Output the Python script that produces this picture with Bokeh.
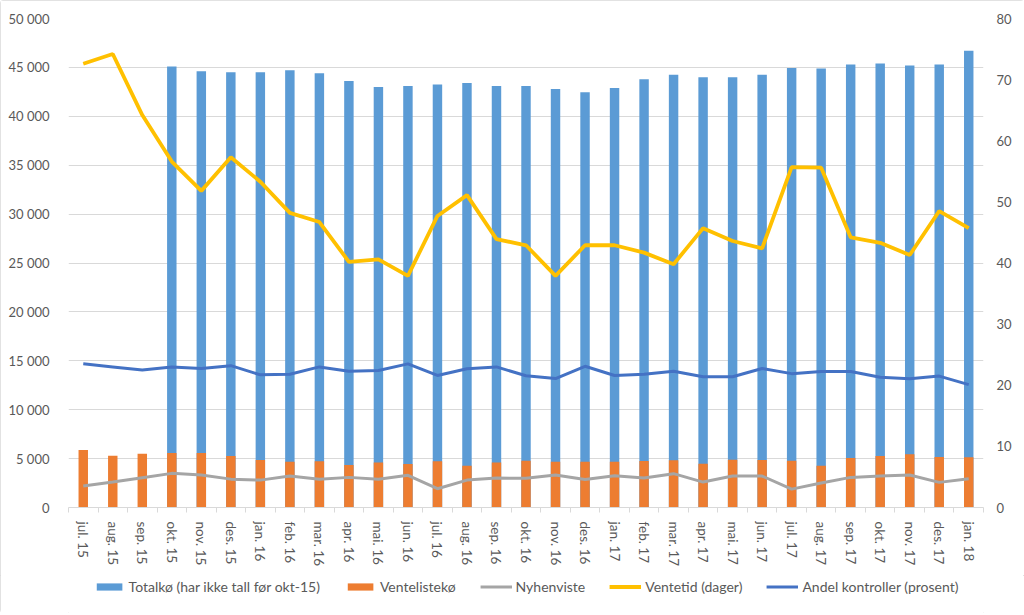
import math
from bokeh.plotting import figure
from bokeh.layouts import column
from bokeh.models import LinearAxis, Range1d, FixedTicker, Legend, LegendItem
from bokeh.embed import file_html
from bokeh.resources import INLINE

nan = float("nan")

months = ["jul. 15", "aug. 15", "sep. 15", "okt. 15", "nov. 15", "des. 15",
          "jan. 16", "feb. 16", "mar. 16", "apr. 16", "mai. 16", "jun. 16",
          "jul. 16", "aug. 16", "sep. 16", "okt. 16", "nov. 16", "des. 16",
          "jan. 17", "feb. 17", "mar. 17", "apr. 17", "mai. 17", "jun. 17",
          "jul. 17", "aug. 17", "sep. 17", "okt. 17", "nov. 17", "des. 17",
          "jan. 18"]

totalko = [nan, nan, nan, 45100, 44600, 44500,
           44500, 44700, 44400, 43600, 43000, 43100,
           43250, 43400, 43100, 43100, 42800, 42450,
           42900, 43800, 44250, 44000, 44000, 44250,
           44950, 44900, 45300, 45400, 45200, 45300,
           46700]

ventelisteko = [5880, 5300, 5500, 5580, 5580, 5270,
                4860, 4690, 4720, 4350, 4590, 4450,
                4720, 4280, 4590, 4790, 4690, 4690,
                4690, 4760, 4830, 4480, 4890, 4860,
                4790, 4280, 5070, 5270, 5440, 5170,
                5130]

nyhenviste = [2190, 2600, 3050, 3490, 3320, 2900,
              2800, 3220, 2900, 3080, 2900, 3290,
              1920, 2800, 3010, 2980, 3320, 2870,
              3250, 3010, 3460, 2600, 3220, 3220,
              1880, 2500, 3080, 3220, 3320, 2570,
              2940]

ventetid = [72.6, 74.2, 64.2, 56.6, 51.8, 57.3,
            53.3, 48.2, 46.7, 40.2, 40.6, 37.9,
            47.7, 51.1, 43.9, 42.9, 37.9, 42.9,
            42.9, 41.7, 39.8, 45.7, 43.6, 42.4,
            55.7, 55.6, 44.2, 43.3, 41.3, 48.5,
            45.7]

andel = [23.5, 23.0, 22.5, 23.0, 22.75, 23.2,
         21.7, 21.8, 23.0, 22.3, 22.4, 23.5,
         21.6, 22.7, 23.0, 21.55, 21.1, 23.1,
         21.6, 21.8, 22.3, 21.4, 21.4, 22.75,
         21.9, 22.25, 22.25, 21.3, 21.05, 21.5,
         20.1]

left_ticks = [0, 5000, 10000, 15000, 20000, 25000, 30000, 35000, 40000, 45000, 50000]
left_labels = ["0", "5 000", "10 000", "15 000", "20 000", "25 000",
               "30 000", "35 000", "40 000", "45 000", "50 000"]
right_ticks = [0, 10, 20, 30, 40, 50, 60, 70, 80]

series_names = ["Totalkø (har ikke tall før okt-15)", "Ventelistekø", "Nyhenviste",
                "Ventetid (dager)", "Andel kontroller (prosent)"]

FONT = "Lato"
TXT = "#595959"
GRID = "#d9d9d9"
C_TOT, C_VENT, C_NY, C_VT, C_AN = "#5B9BD5", "#ED7D31", "#A5A5A5", "#FFC000", "#4472C4"

idx = list(range(len(months)))

p = figure(width=1024, height=575, output_backend="svg", toolbar_location=None,
           x_range=Range1d(-0.5, len(months) - 0.5), y_range=Range1d(0, 50000),
           min_border_left=68, min_border_right=41, min_border_top=18,
           min_border_bottom=68)
p.extra_y_ranges = {"right": Range1d(0, 80)}
p.outline_line_color = None

p.vbar(x=idx, top=totalko, width=0.32, fill_color=C_TOT, line_color=None)
p.vbar(x=idx, top=ventelisteko, width=0.32, fill_color=C_VENT, line_color=None)
p.line(idx, nyhenviste, line_color=C_NY, line_width=3)
p.line(idx, ventetid, line_color=C_VT, line_width=3.8, y_range_name="right")
p.line(idx, andel, line_color=C_AN, line_width=3, y_range_name="right")

# x axis
xa = p.xaxis[0]
xa.ticker = FixedTicker(ticks=idx, minor_ticks=[i - 0.5 for i in range(len(months) + 1)])
xa.major_label_overrides = {i: m for i, m in enumerate(months)}
xa.major_label_orientation = -math.pi / 2
xa.major_tick_line_color = None
xa.minor_tick_line_color = GRID
xa.minor_tick_out = 5
xa.minor_tick_in = 0
xa.axis_line_color = GRID
xa.major_label_text_font = FONT
xa.major_label_text_font_size = "13.5px"
xa.major_label_text_color = TXT
xa.major_label_standoff = 8

# left y axis
ya = p.yaxis[0]
ya.ticker = FixedTicker(ticks=left_ticks)
ya.major_label_overrides = dict(zip(left_ticks, left_labels))
ya.axis_line_color = None
ya.major_tick_line_color = None
ya.minor_tick_line_color = None
ya.major_label_text_font = FONT
ya.major_label_text_font_size = "13px"
ya.major_label_text_color = TXT
ya.major_label_standoff = 13

# right y axis
ra = LinearAxis(y_range_name="right", ticker=FixedTicker(ticks=right_ticks))
ra.axis_line_color = None
ra.major_tick_line_color = None
ra.minor_tick_line_color = None
ra.major_label_text_font = FONT
ra.major_label_text_font_size = "13px"
ra.major_label_text_color = TXT
ra.major_label_standoff = 7
p.add_layout(ra, "right")

p.xgrid.grid_line_color = None
p.ygrid.ticker = FixedTicker(ticks=left_ticks)
p.ygrid.grid_line_color = GRID

# legend strip: a second figure with style-only renderers (NaN data, nothing drawn)
lg = figure(width=1024, height=38, output_backend="svg", toolbar_location=None,
            x_range=Range1d(0, 1), y_range=Range1d(0, 1),
            x_axis_type=None, y_axis_type=None,
            min_border_left=0, min_border_right=0, min_border_top=0, min_border_bottom=0)
lg.outline_line_color = None
lg.xgrid.grid_line_color = None
lg.ygrid.grid_line_color = None
off_x = [nan]
off_y = [nan]
d_tot = lg.vbar(x=off_x, top=off_y, width=0.3, fill_color=C_TOT, line_color=None)
d_vent = lg.vbar(x=off_x, top=off_y, width=0.3, fill_color=C_VENT, line_color=None)
d_ny = lg.line(x=off_x, y=off_y, line_color=C_NY, line_width=3)
d_vt = lg.line(x=off_x, y=off_y, line_color=C_VT, line_width=3.8)
d_an = lg.line(x=off_x, y=off_y, line_color=C_AN, line_width=3)

legend = Legend(items=[
    LegendItem(label=series_names[0], renderers=[d_tot]),
    LegendItem(label=series_names[1], renderers=[d_vent]),
    LegendItem(label=series_names[2], renderers=[d_ny]),
    LegendItem(label=series_names[3], renderers=[d_vt]),
    LegendItem(label=series_names[4], renderers=[d_an]),
], orientation="horizontal", location="top_center")
legend.label_text_font = FONT
legend.label_text_font_size = "14px"
legend.label_text_color = TXT
legend.glyph_width = 32
legend.glyph_height = 9
legend.label_standoff = 4
legend.spacing = 24
legend.border_line_color = None
legend.background_fill_alpha = 0
legend.padding = 2
legend.margin = 3
lg.add_layout(legend)

layout = column(p, lg, spacing=0,
                styles={"outline": "1px solid #d9d9d9", "outline-offset": "-1px",
                        "border-radius": "3px"})

open("out.html", "w").write(file_html(layout, INLINE))
